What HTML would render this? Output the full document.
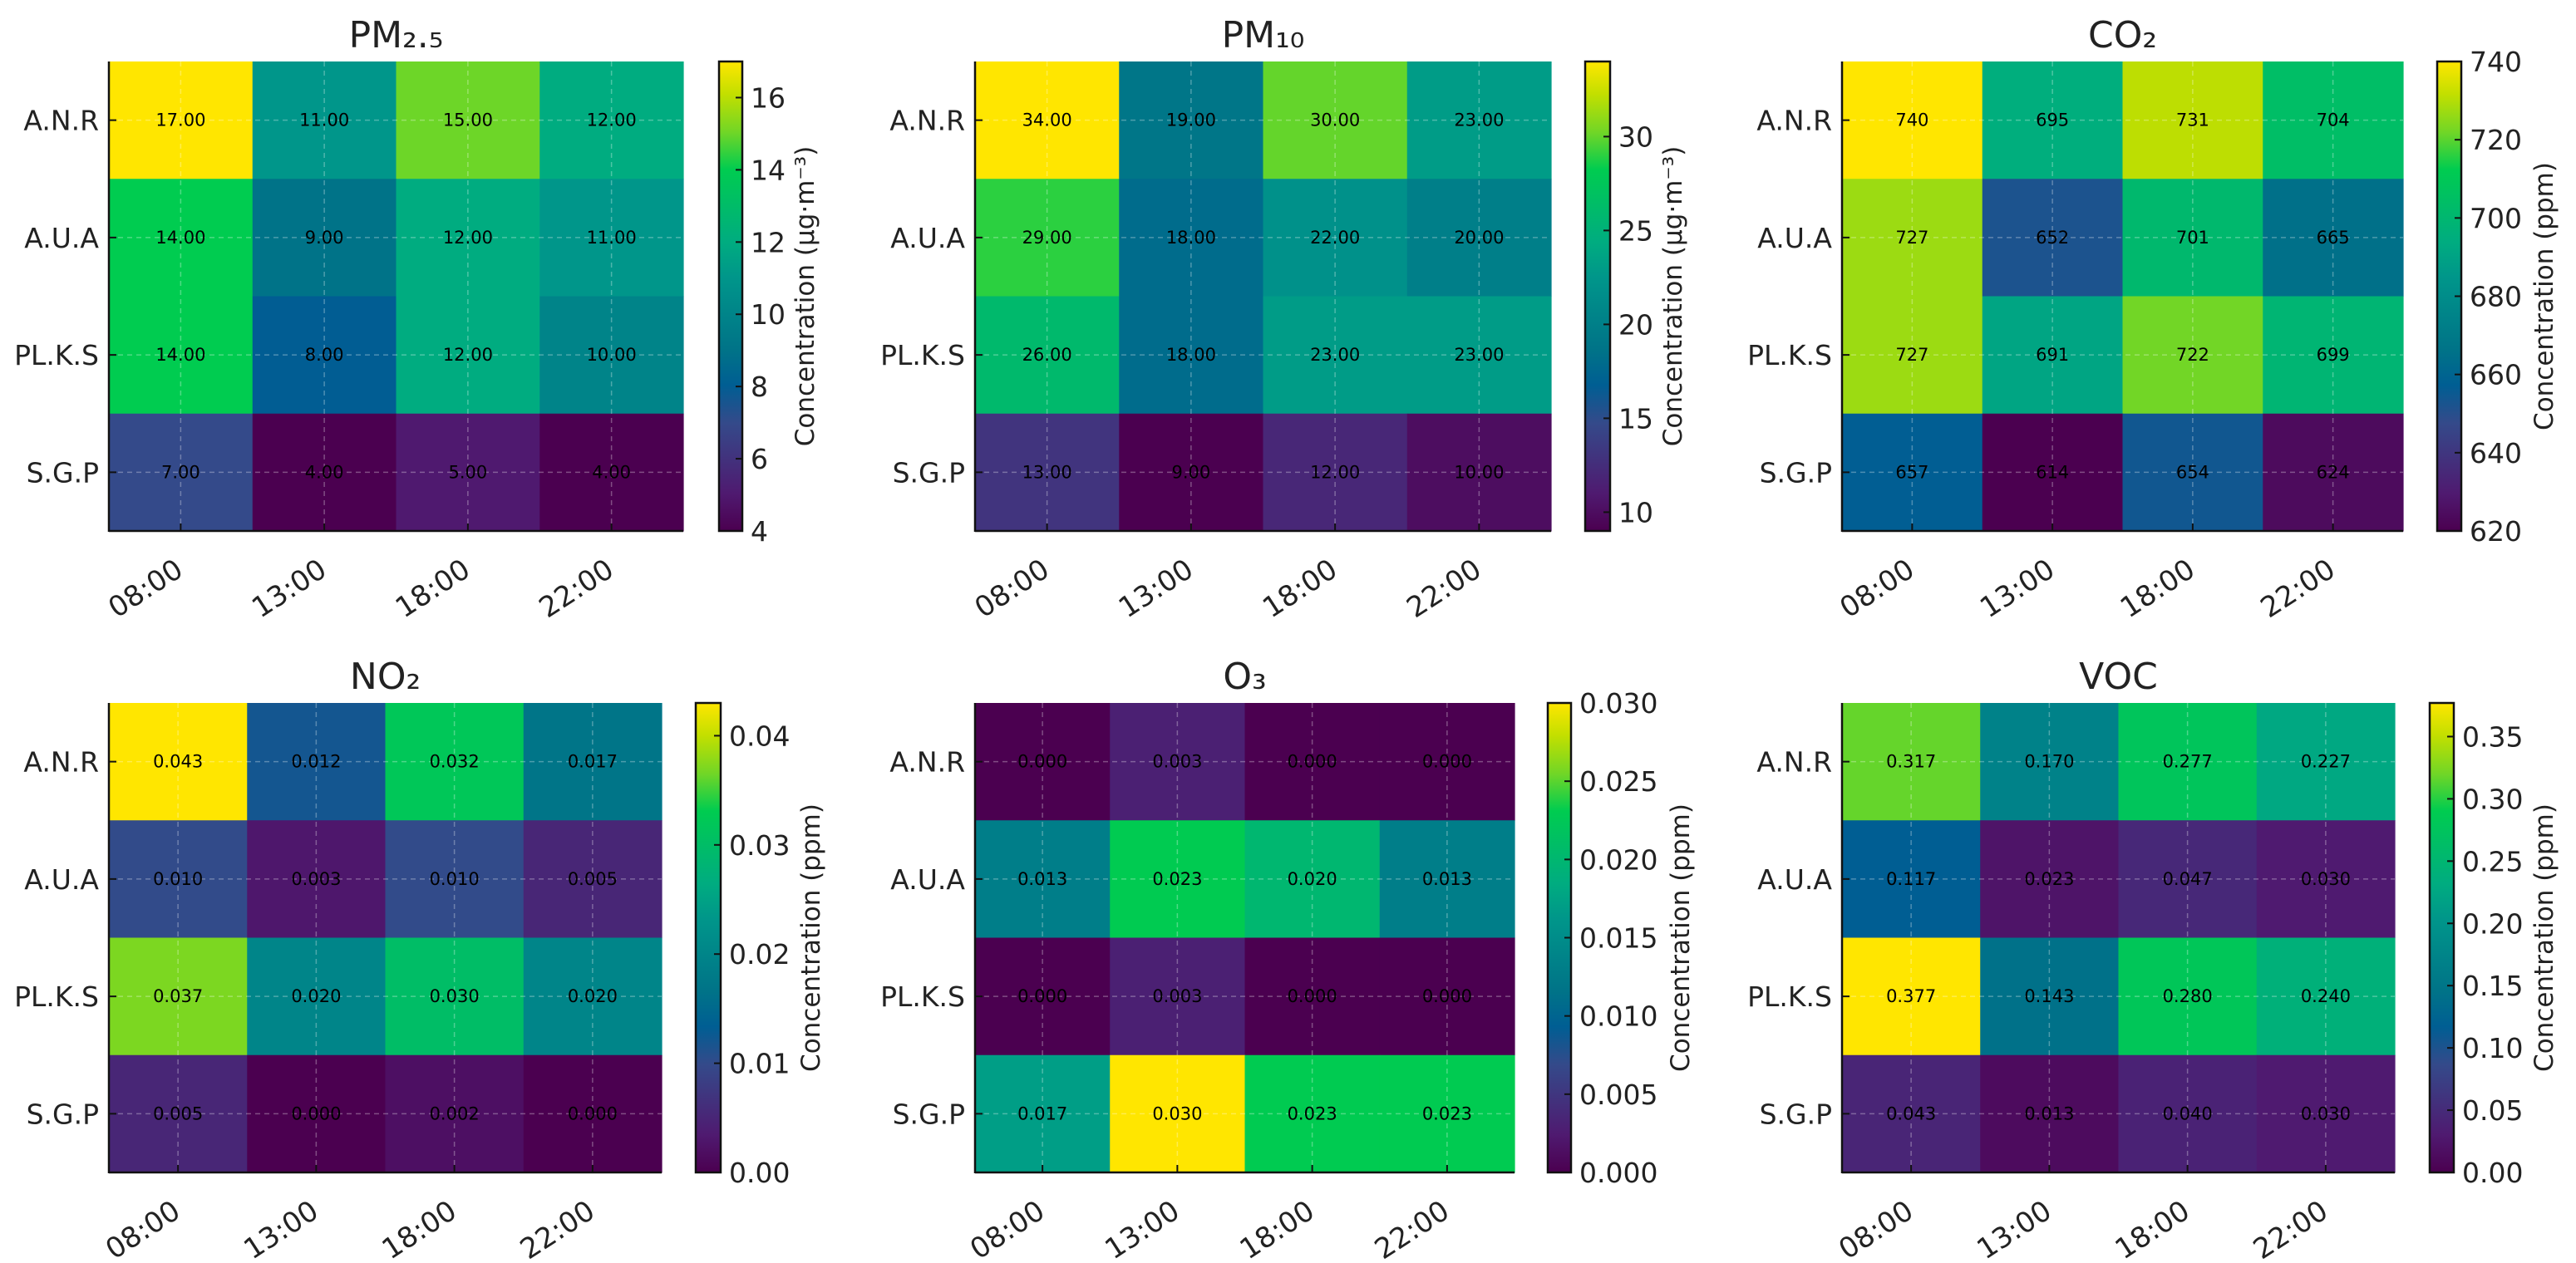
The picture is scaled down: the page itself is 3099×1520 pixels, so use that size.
<!DOCTYPE html>
<html><head><meta charset="utf-8"><style>
html,body{margin:0;padding:0;background:#fff}
svg{display:block;font-family:"DejaVu Sans","Liberation Sans",sans-serif}
</style></head><body>
<svg id="fig" width="3099" height="1520" viewBox="0 0 3099 1520">
<defs>
<linearGradient id="vir" x1="0" y1="1" x2="0" y2="0">
<stop offset="0" stop-color="#4b0050"/><stop offset="0.08" stop-color="#4f1a70"/>
<stop offset="0.23" stop-color="#344a8a"/><stop offset="0.31" stop-color="#005e93"/>
<stop offset="0.385" stop-color="#007388"/><stop offset="0.54" stop-color="#00968a"/>
<stop offset="0.615" stop-color="#00ac80"/><stop offset="0.77" stop-color="#00cc50"/>
<stop offset="0.85" stop-color="#72d626"/><stop offset="0.93" stop-color="#c2df00"/>
<stop offset="1" stop-color="#ffe600"/>
</linearGradient>
</defs>
</svg>
<script>
// shared categories
const hours = ["08:00","13:00","18:00","22:00"];
const sites = ["A.N.R","A.U.A","PL.K.S","S.G.P"];
// values: rows = sites, cols = hours
const pm25Values = [[17,11,15,12],[14,9,12,11],[14,8,12,10],[7,4,5,4]];
const pm10Values = [[34,19,30,23],[29,18,22,20],[26,18,23,23],[13,9,12,10]];
const co2Values = [[740,695,731,704],[727,652,701,665],[727,691,722,699],[657,614,654,624]];
const no2Values = [[0.043,0.012,0.032,0.017],[0.010,0.003,0.010,0.005],[0.037,0.020,0.030,0.020],[0.005,0.000,0.002,0.000]];
const o3Values = [[0.000,0.003,0.000,0.000],[0.013,0.023,0.020,0.013],[0.000,0.003,0.000,0.000],[0.017,0.030,0.023,0.023]];
const vocValues = [[0.317,0.170,0.277,0.227],[0.117,0.023,0.047,0.030],[0.377,0.143,0.280,0.240],[0.043,0.013,0.040,0.030]];
// colorbar ticks
const pm25Ticks = [4,6,8,10,12,14,16];
const pm10Ticks = [10,15,20,25,30];
const co2Ticks = [620,640,660,680,700,720,740];
const no2Ticks = [0,0.01,0.02,0.03,0.04];
const o3Ticks = [0,0.005,0.010,0.015,0.020,0.025,0.030];
const vocTicks = [0,0.05,0.10,0.15,0.20,0.25,0.30,0.35];
const pm25Range = [4,17], pm10Range = [9,34], co2Range = [620,740], no2Range = [0,0.043], o3Range = [0,0.030], vocRange = [0,0.377];

const stops = [[0,"#4b0050"],[0.08,"#4f1a70"],[0.23,"#344a8a"],[0.31,"#005e93"],[0.385,"#007388"],[0.54,"#00968a"],[0.615,"#00ac80"],[0.77,"#00cc50"],[0.85,"#72d626"],[0.93,"#c2df00"],[1,"#ffe600"]];
function hex(c){return [parseInt(c.slice(1,3),16),parseInt(c.slice(3,5),16),parseInt(c.slice(5,7),16)];}
function cmap(t){t=Math.max(0,Math.min(1,t));for(let i=1;i<stops.length;i++){if(t<=stops[i][0]){const a=stops[i-1],b=stops[i];const f=(t-a[0])/(b[0]-a[0]);const ca=hex(a[1]),cb=hex(b[1]);return "rgb("+ca.map((v,k)=>Math.round(v+(cb[k]-v)*f)).join(",")+")";}}return stops[stops.length-1][1];}

const NS="http://www.w3.org/2000/svg";
const fig=document.getElementById("fig");
function mk(tag,attrs,parent){const e=document.createElementNS(NS,tag);for(const k in attrs)e.setAttribute(k,attrs[k]);(parent||fig).appendChild(e);return e;}

const panels=[
 {key:"pm25",title:"PM₂.₅",vals:pm25Values,ticks:pm25Ticks,range:pm25Range,fmt:v=>v.toFixed(2),tfmt:v=>String(v),unit:"Concentration (μg·m⁻³)",L:131,R:822,T:74,B:639,cbL:865,cbR:893,lab:75},
 {key:"pm10",title:"PM₁₀",vals:pm10Values,ticks:pm10Ticks,range:pm10Range,fmt:v=>v.toFixed(2),tfmt:v=>String(v),unit:"Concentration (μg·m⁻³)",L:1173,R:1866,T:74,B:639,cbL:1907,cbR:1937,lab:75},
 {key:"co2",title:"CO₂",vals:co2Values,ticks:co2Ticks,range:co2Range,fmt:v=>String(v),tfmt:v=>String(v),unit:"Concentration (ppm)",L:2216,R:2891,T:74,B:639,cbL:2932,cbR:2961,lab:99},
 {key:"no2",title:"NO₂",vals:no2Values,ticks:no2Ticks,range:no2Range,fmt:v=>v.toFixed(3),tfmt:v=>v.toFixed(2),unit:"Concentration (ppm)",L:131,R:796,T:846,B:1411,cbL:837,cbR:867,lab:108},
 {key:"o3",title:"O₃",vals:o3Values,ticks:o3Ticks,range:o3Range,fmt:v=>v.toFixed(3),tfmt:v=>v.toFixed(3),unit:"Concentration (ppm)",L:1173,R:1822,T:846,B:1411,cbL:1862,cbR:1890,lab:131},
 {key:"voc",title:"VOC",vals:vocValues,ticks:vocTicks,range:vocRange,fmt:v=>v.toFixed(3),tfmt:v=>v.toFixed(2),unit:"Concentration (ppm)",L:2216,R:2881,T:846,B:1411,cbL:2923,cbR:2952,lab:108}
];

panels.forEach(p=>{
 const g=mk("g",{});
 
 
 const nC=hours.length,nR=sites.length;
 const cw=(p.R-p.L)/nC, rh=(p.B-p.T)/nR;
 const xC=j=>p.L+cw*(j+0.5), yC=i=>p.T+rh*(i+0.5);
 const [vmin,vmax]=p.range;
 p.vals.forEach((row,i)=>row.forEach((v,j)=>{
  const r=mk("rect",{x:p.L+cw*j,y:p.T+rh*i,width:cw+0.6,height:rh+0.6,fill:cmap((v-vmin)/(vmax-vmin))},g);
  
  
 }));
 hours.forEach((h,j)=>mk("line",{x1:xC(j),x2:xC(j),y1:p.T,y2:p.B,stroke:"#fff","stroke-opacity":0.3,"stroke-width":1.5,"stroke-dasharray":"6,5"},g));
 sites.forEach((s,i)=>mk("line",{x1:p.L,x2:p.R,y1:yC(i),y2:yC(i),stroke:"#fff","stroke-opacity":0.3,"stroke-width":1.5,"stroke-dasharray":"6,5"},g));
 p.vals.forEach((row,i)=>row.forEach((v,j)=>{
  const t=mk("text",{x:xC(j),y:yC(i)+7,"text-anchor":"middle","font-size":21,fill:"#000"},g);
  t.textContent=p.fmt(v);
  
  
 }));
 mk("line",{x1:p.L,x2:p.L,y1:p.T,y2:p.B+1,stroke:"#111","stroke-width":2.5},g);
 mk("line",{x1:p.L,x2:p.R,y1:p.B,y2:p.B,stroke:"#111","stroke-width":2.5},g);
 sites.forEach((s,i)=>{
  mk("line",{x1:p.L,x2:p.L+9,y1:yC(i),y2:yC(i),stroke:"#111","stroke-width":2},g);
  const t=mk("text",{x:p.L-12,y:yC(i)+12,"text-anchor":"end","font-size":33,fill:"#222"},g);
  t.textContent=s;
  
  
 });
 hours.forEach((h,j)=>{
  mk("line",{x1:xC(j),x2:xC(j),y1:p.B,y2:p.B-9,stroke:"#111","stroke-width":2},g);
  const ax=xC(j)-8, ay=p.B+32;
  const t=mk("text",{x:ax,y:ay+24,"text-anchor":"end","font-size":34,fill:"#222",transform:"rotate(-33 "+ax+" "+ay+")"},g);
  t.textContent=h;
  
  
 });
 const tt=mk("text",{x:(p.L+p.R)/2,y:p.T-17,"text-anchor":"middle","font-size":44,fill:"#222"},g);
 tt.textContent=p.title;
 
 
 const cb=mk("rect",{x:p.cbL,y:p.T,width:p.cbR-p.cbL,height:p.B-p.T,fill:"url(#vir)",stroke:"#111","stroke-width":2.5},g);
 
 
 const cy=v=>p.B-(v-vmin)/(vmax-vmin)*(p.B-p.T);
 p.ticks.forEach(v=>{
  const y=cy(v);
  mk("line",{x1:p.cbR-8,x2:p.cbR,y1:y,y2:y,stroke:"#111","stroke-width":2},g);
  const t=mk("text",{x:p.cbR+10,y:y+12,"font-size":33,fill:"#222"},g);
  t.textContent=p.tfmt(v);
  
  
 });
 const lx=p.cbR+p.lab, ly=(p.T+p.B)/2;
 const lt=mk("text",{x:lx,y:ly+11,"text-anchor":"middle","font-size":31,fill:"#222",transform:"rotate(-90 "+lx+" "+ly+")"},g);
 lt.textContent=p.unit;
 
 
});
</script>
</body></html>
